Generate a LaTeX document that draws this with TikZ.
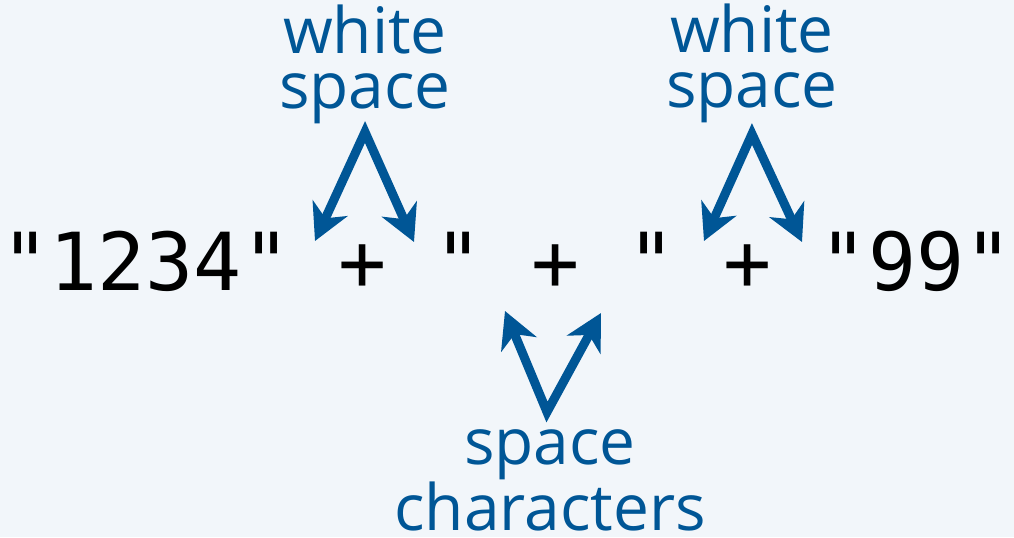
\documentclass[tikz,border=0pt]{standalone}
\usepackage{fontspec}
\setmainfont{Open Sans}
\newfontfamily\codefont{DejaVu Sans Mono}[WordSpace={1,0,0}]
\usepackage{xcolor}
\usetikzlibrary{arrows.meta,positioning}
\definecolor{bgpale}{RGB}{242,246,250}
\definecolor{noteblue}{RGB}{0,86,150}
\tikzset{
  code/.style={anchor=base, inner sep=0pt, font=\codefont\fontsize{40pt}{40pt}\selectfont},
  note/.style={anchor=base, inner sep=0pt, align=center, text=noteblue,
    font=\fontsize{32pt}{27.5pt}\selectfont},
  vee/.style={draw=noteblue, line width=4.5pt, line join=miter,
    {Stealth[length=18pt, width=19pt, inset=5.5pt]}-{Stealth[length=18pt, width=19pt, inset=5.5pt]}}
}
\begin{document}
\begin{tikzpicture}[x=0.5pt, y=-0.5pt]
  \fill[bgpale] (0,0) rectangle (1014,537);
  \useasboundingbox (0,0) rectangle (1014,537);

  \node[code] (expr) at (507,290) {"1234" + " + " + "99"};

  \node[note] (ws1) at (365,108) {white\\space};
  \node[note] (ws2) at (752,107) {white\\space};
  \node[note] (sc) at (550,530) {space\\characters};

  % arrow ends
  \coordinate (ws1top) at (365,132);
  \coordinate (ws1l) at (315,241);
  \coordinate (ws1r) at (414,242);
  \coordinate (ws2top) at (752,134);
  \coordinate (ws2l) at (704,241);
  \coordinate (ws2r) at (802,242);
  \coordinate (scbot) at (547,412);
  \coordinate (scl) at (505,311);
  \coordinate (scr) at (601,313);

  \draw[vee] (ws1l) -- (ws1top) -- (ws1r);
  \draw[vee] (ws2l) -- (ws2top) -- (ws2r);
  \draw[vee] (scl) -- (scbot) -- (scr);
\end{tikzpicture}
\end{document}
